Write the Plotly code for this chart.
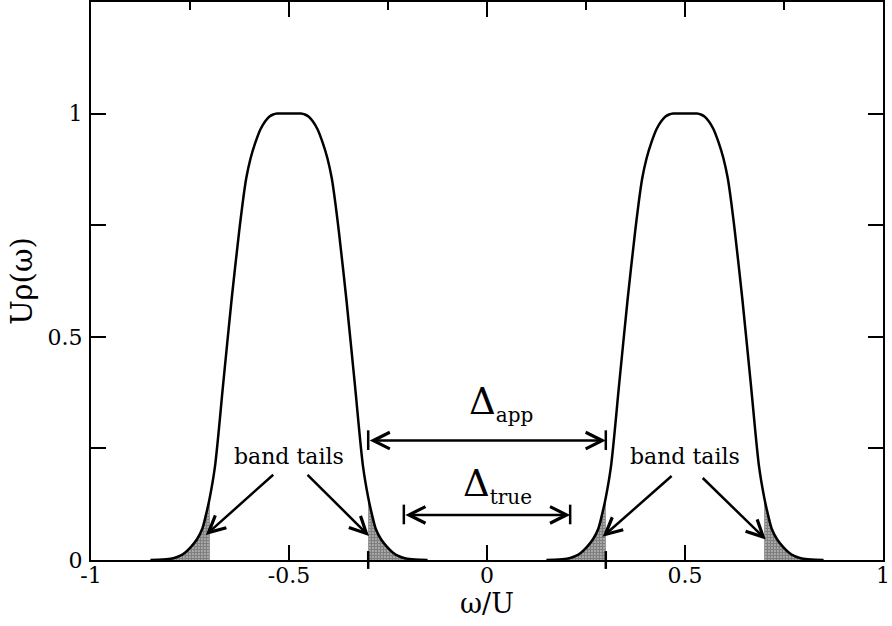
import plotly.graph_objects as go

# Half-profile of one Hubbard band: distance from the band centre -> U*rho
PROFILE_D = [0.0, 0.03, 0.04, 0.05, 0.06, 0.072, 0.085, 0.097, 0.108, 0.117,
             0.126, 0.145, 0.166, 0.187, 0.2, 0.21, 0.219, 0.232, 0.247, 0.262,
             0.276, 0.29, 0.31, 0.33, 0.35]
PROFILE_RHO = [1.0, 1.0, 0.998, 0.993, 0.983, 0.965, 0.935, 0.9, 0.855, 0.8,
               0.735, 0.583, 0.396, 0.209, 0.14, 0.10, 0.07, 0.047, 0.03, 0.017,
               0.009, 0.0045, 0.0015, 0.0003, 0.0]
BAND_CENTRES = [-0.5, 0.5]
TAIL_START = 0.2          # tails begin this far from a band centre

# Gap markers
GAP_APP = 0.3
GAP_TRUE = 0.21
Y_APP = 0.2675
Y_TRUE = 0.101

X_TICKS = [-1, -0.5, 0, 0.5, 1]
X_TICKTEXT = ["-1", "-0.5", "0", "0.5", "1"]
Y_TICKS = [0, 0.5, 1]
Y_TICKTEXT = ["0", "0.5", "1"]

# band-tail label arrows: (tail x, tail y, head x, head y)
TAIL_ARROWS = [(-0.536, 0.194, -0.710, 0.056),
               (-0.457, 0.194, -0.298, 0.054),
               (0.470, 0.191, 0.292, 0.052),
               (0.541, 0.187, 0.704, 0.046)]

FONT = "DejaVu Serif"


def band_xy(c):
    xs, ys = [], []
    for d, r in zip(reversed(PROFILE_D), reversed(PROFILE_RHO)):
        xs.append(c - d)
        ys.append(r)
    for d, r in zip(PROFILE_D[1:], PROFILE_RHO[1:]):
        xs.append(c + d)
        ys.append(r)
    return xs, ys


fig = go.Figure()

# shaded band tails
for c in BAND_CENTRES:
    for side in (-1, 1):
        tx, ty = [], []
        pts = [(d, r) for d, r in zip(PROFILE_D, PROFILE_RHO) if d >= TAIL_START]
        for d, r in pts:
            tx.append(c + side * d)
            ty.append(r)
        fig.add_trace(go.Scatter(
            x=tx, y=ty, mode="lines", line=dict(width=0, color="black"),
            fill="tozeroy", fillcolor="white",
            fillpattern=dict(shape=".", fgcolor="black", bgcolor="white",
                             size=3, solidity=0.8),
            hoverinfo="skip", showlegend=False))

# density of states curve
cx, cy = [], []
for i, c in enumerate(BAND_CENTRES):
    bx, by = band_xy(c)
    if i:
        cx.append(None)
        cy.append(None)
    cx += bx
    cy += by
fig.add_trace(go.Scatter(x=cx, y=cy, mode="lines",
                         line=dict(color="black", width=2.5, shape="spline", smoothing=0.8),
                         hoverinfo="skip", showlegend=False))

# keep the top axis attached
fig.add_trace(go.Scatter(x=[-1, 1], y=[None, None], xaxis="x2", yaxis="y",
                         mode="lines", showlegend=False, hoverinfo="skip"))

shapes = []
# end bars for the gap arrows
for gx, gy in ((GAP_APP, Y_APP), (GAP_TRUE, Y_TRUE)):
    for s in (-1, 1):
        shapes.append(dict(type="line", xref="x", yref="y",
                           x0=s * gx, x1=s * gx, y0=gy - 0.021, y1=gy + 0.023,
                           line=dict(color="black", width=2.5)))
# markers of the apparent gap on the axis
for s in (-1, 1):
    shapes.append(dict(type="line", xref="x", yref="paper",
                       x0=s * GAP_APP, x1=s * GAP_APP, y0=-0.016, y1=0.016,
                       line=dict(color="black", width=2.5)))

ARROW = dict(xref="x", yref="y", axref="x", ayref="y", text="", showarrow=True,
             arrowhead=5, arrowsize=1.3, arrowwidth=2.5, arrowcolor="black",
             standoff=0)

annotations = []
# double-headed gap arrows
for gx, gy in ((GAP_APP, Y_APP), (GAP_TRUE, Y_TRUE)):
    annotations.append(dict(x=gx, y=gy, ax=-gx, ay=gy, arrowside="end+start",
                            startarrowhead=5, startarrowsize=1.3, startstandoff=0,
                            **ARROW))
annotations.append(dict(x=-0.05, y=0.351, xref="x", yref="y", xanchor="left",
                        yanchor="middle", showarrow=False,
                        text='Δ<sub><span style="font-size:20px">app</span></sub>',
                        font=dict(family=FONT, size=37, color="black")))
annotations.append(dict(x=-0.066, y=0.167, xref="x", yref="y", xanchor="left",
                        yanchor="middle", showarrow=False,
                        text='Δ<sub><span style="font-size:20px">true</span></sub>',
                        font=dict(family=FONT, size=37, color="black")))
for c in BAND_CENTRES:
    annotations.append(dict(x=c, y=0.232, xref="x", yref="y", xanchor="center",
                            yanchor="middle", showarrow=False, text="band tails",
                            font=dict(family=FONT, size=22, color="black")))
for x0, y0, x1, y1 in TAIL_ARROWS:
    annotations.append(dict(x=x1, y=y1, ax=x0, ay=y0, **ARROW))

tickfont = dict(family=FONT, size=22, color="black")
fig.update_layout(
    width=892, height=626,
    margin=dict(l=91, r=4, t=2, b=66),
    paper_bgcolor="white", plot_bgcolor="white",
    showlegend=False,
    shapes=shapes, annotations=annotations,
    xaxis=dict(range=[-1, 1], tickmode="array", tickvals=X_TICKS, ticktext=X_TICKTEXT,
               ticks="inside", ticklen=15, tickwidth=1.5, tickcolor="black",
               ticklabeloverflow="allow", ticklabelstandoff=-5,
               showline=True, linewidth=2, linecolor="black", mirror=False,
               showgrid=False, zeroline=False, tickfont=tickfont,
               title=dict(text="ω/U", font=dict(family=FONT, size=27, color="black"),
                          standoff=1)),
    xaxis2=dict(range=[-1, 1], overlaying="x", side="top", anchor="y",
                tickmode="linear", tick0=0, dtick=0.5,
                ticks="inside", ticklen=15, tickwidth=1.5, tickcolor="black",
                minor=dict(dtick=0.25, tick0=0, ticks="inside", ticklen=8,
                           tickwidth=1.5, tickcolor="black"),
                showticklabels=False, showline=True, linewidth=2, linecolor="black",
                showgrid=False, zeroline=False),
    yaxis=dict(range=[0, 1.25], tickmode="array", tickvals=Y_TICKS, ticktext=Y_TICKTEXT,
               ticks="inside", ticklen=15, tickwidth=1.5, tickcolor="black",
               ticklabelstandoff=2,
               minor=dict(dtick=0.25, tick0=0, ticks="inside", ticklen=8,
                          tickwidth=1.5, tickcolor="black"),
               showline=True, linewidth=2, linecolor="black", mirror="allticks",
               showgrid=False, zeroline=False, tickfont=tickfont,
               title=dict(text="Uρ(ω)", font=dict(family=FONT, size=29, color="black"),
                          standoff=6)),
)

fig.write_html("out.html")
